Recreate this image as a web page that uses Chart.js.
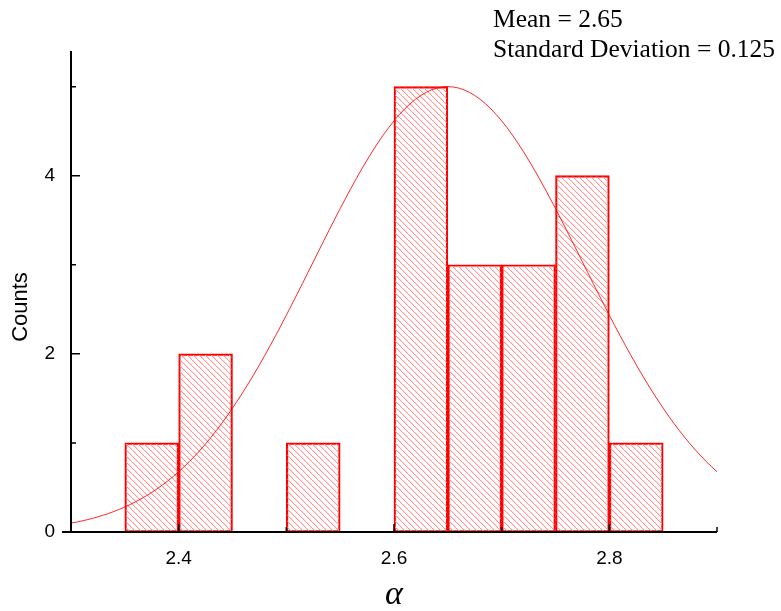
<!DOCTYPE html>
<html>
<head>
<meta charset="utf-8">
<script src="https://cdn.jsdelivr.net/npm/chart.js@4.4.0/dist/chart.umd.min.js"></script>
<style>
	html, body { margin: 0; padding: 0; background: #fff; }
	#wrap { width: 781px; height: 611px; position: relative; }
</style>
</head>
<body>
<div id="wrap"><canvas id="mycanvas"></canvas></div>
<script>
// histogram bins (left edges), width 0.05
var binStarts = [2.35, 2.40, 2.45, 2.50, 2.55, 2.60, 2.65, 2.70, 2.75, 2.80];
var counts    = [1,    2,    0,    1,    0,    5,    3,    3,    4,    1];
var binWidth = 0.05;

// normal fit shown in the corner
var fitMean = 2.65;
var fitSd = 0.125;
var fitPeak = 5;

var xTicks = [2.4, 2.6, 2.8];
var yTicks = [0, 2, 4];
var xMinor = [2.5, 2.7, 2.9];
var yMinor = [1, 3, 5];

// hatched fill for the bars: one-pixel diagonal every 6px
function hatch() {
	var c = document.createElement('canvas');
	c.width = 6; c.height = 6;
	var g = c.getContext('2d');
	g.fillStyle = 'rgb(255,150,150)';
	for (var p = 0; p < 6; p++) g.fillRect(p, p, 1, 1);
	g.fillStyle = 'rgba(255,150,150,0.35)';
	for (var p = 0; p < 5; p++) g.fillRect(p + 1, p, 1, 1);
	return g.createPattern(c, 'repeat');
}

var bars = [];
for (var i in binStarts) {
	if (counts[i] > 0) bars.push({x: binStarts[i] + binWidth / 2, y: counts[i]});
}

var curve = [];
for (var k = 0; k <= 120; k++) {
	var xv = 2.3 + k * 0.005;
	var z = (xv - fitMean) / fitSd;
	curve.push({x: xv, y: fitPeak * Math.exp(-0.5 * z * z)});
}

var axesPlugin = {
	id: 'axesPlugin',
	afterDraw: function(chart) {
		var ctx = chart.ctx, a = chart.chartArea;
		var xs = chart.scales.x, ys = chart.scales.y;
		ctx.save();
		ctx.strokeStyle = '#000';
		ctx.lineWidth = 2;
		ctx.beginPath();
		ctx.moveTo(a.left, a.top); ctx.lineTo(a.left, a.bottom);
		ctx.moveTo(a.left - 9, a.bottom); ctx.lineTo(a.right, a.bottom);
		ctx.stroke();
		ctx.lineWidth = 1.5;
		ctx.beginPath();
		xTicks.forEach(function(v) { var p = xs.getPixelForValue(v); ctx.moveTo(p, a.bottom); ctx.lineTo(p, a.bottom - 8); });
		xMinor.forEach(function(v) { var p = xs.getPixelForValue(v); ctx.moveTo(p, a.bottom); ctx.lineTo(p, a.bottom - 5); });
		yTicks.forEach(function(v) { var p = ys.getPixelForValue(v); ctx.moveTo(a.left, p); ctx.lineTo(a.left + 9, p); });
		yMinor.forEach(function(v) { var p = ys.getPixelForValue(v); ctx.moveTo(a.left, p); ctx.lineTo(a.left + 5, p); });
		ctx.stroke();

		ctx.fillStyle = '#000';
		ctx.textAlign = 'center';
		ctx.textBaseline = 'middle';
		ctx.font = 'italic 34px "Liberation Serif"';
		ctx.fillText('α', (a.left + a.right) / 2, 595);

		ctx.save();
		ctx.translate(21, 307);
		ctx.rotate(-Math.PI / 2);
		ctx.font = '22px "Liberation Sans"';
		ctx.fillText('Counts', 0, 0);
		ctx.restore();

		ctx.textAlign = 'left';
		ctx.textBaseline = 'alphabetic';
		ctx.font = '25.5px "Liberation Serif"';
		ctx.fillText('Mean = ' + fitMean, 493, 27);
		ctx.fillText('Standard Deviation = ' + fitSd, 493, 57);
		ctx.restore();
	}
};

var ctx = document.getElementById('mycanvas');
var chart = new Chart(ctx, {
	type: 'bar',
	data: {
		datasets: [
			{
				type: 'line',
				data: curve,
				borderColor: 'rgba(255,0,0,0.85)',
				borderWidth: 1,
				pointRadius: 0,
				tension: 0,
				order: 0
			},
			{
				data: bars,
				backgroundColor: hatch(),
				borderColor: '#ff0000',
				borderWidth: 1.5,
				borderSkipped: false,
				barPercentage: 1,
				categoryPercentage: 1,
				order: 1
			}
		]
	},
	options: {
		responsive: true,
		maintainAspectRatio: false,
		animation: false,
		layout: { padding: { left: 0, top: 51, right: 64, bottom: 0 } },
		plugins: { legend: { display: false }, tooltip: { enabled: false } },
		scales: {
			x: {
				type: 'linear',
				min: 2.3, max: 2.9,
				offset: false,
				grid: { display: false, offset: false },
				border: { display: false },
				afterBuildTicks: function(s) { s.ticks = xTicks.map(function(v) { return {value: v}; }); },
				afterFit: function(s) { s.height = 79; },
				ticks: { color: '#000', font: { family: 'Liberation Sans', size: 19 }, padding: 7, maxRotation: 0 }
			},
			y: {
				min: 0, max: 5.4,
				grid: { display: false },
				border: { display: false },
				afterBuildTicks: function(s) { s.ticks = yTicks.map(function(v) { return {value: v}; }); },
				afterFit: function(s) { s.width = 71; },
				ticks: { color: '#000', font: { family: 'Liberation Sans', size: 19 }, padding: 8 }
			}
		}
	},
	plugins: [axesPlugin]
});
</script>
</body>
</html>
